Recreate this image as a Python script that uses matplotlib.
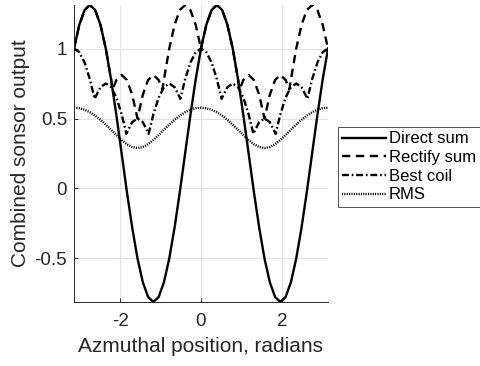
import matplotlib
matplotlib.use("Agg")
import matplotlib.pyplot as plt

plt.rcParams['font.family'] = ['Liberation Sans', 'DejaVu Sans']
plt.rcParams['axes.unicode_minus'] = False
plt.rcParams['lines.scale_dashes'] = False

# azimuthal position (radians)
x_grid = [-3.142, -3.011, -2.880, -2.749, -2.618, -2.487, -2.356, -2.225, -2.094, -1.963,
          -1.833, -1.702, -1.571, -1.440, -1.309, -1.178, -1.047, -0.916, -0.785, -0.654,
          -0.524, -0.393, -0.262, -0.131, 0.000, 0.131, 0.262, 0.393, 0.524, 0.654,
          0.785, 0.916, 1.047, 1.178, 1.309, 1.440, 1.571, 1.702, 1.833, 1.963,
          2.094, 2.225, 2.356, 2.487, 2.618, 2.749, 2.880, 3.011, 3.142]

direct_sum = [1.000, 1.169, 1.275, 1.311, 1.275, 1.169, 1.000, 0.780, 0.525, 0.250,
              -0.025, -0.280, -0.500, -0.669, -0.775, -0.811, -0.775, -0.669, -0.500, -0.280,
              -0.025, 0.250, 0.525, 0.780, 1.000, 1.169, 1.275, 1.311, 1.275, 1.169,
              1.000, 0.780, 0.525, 0.250, -0.025, -0.280, -0.500, -0.669, -0.775, -0.811,
              -0.775, -0.669, -0.500, -0.280, -0.025, 0.250, 0.525, 0.780, 1.000]

rms = [0.577, 0.574, 0.563, 0.545, 0.520, 0.491, 0.456, 0.420, 0.382, 0.346,
       0.316, 0.296, 0.289, 0.296, 0.316, 0.346, 0.382, 0.420, 0.456, 0.491,
       0.520, 0.545, 0.563, 0.574, 0.577, 0.574, 0.563, 0.545, 0.520, 0.491,
       0.456, 0.420, 0.382, 0.346, 0.316, 0.296, 0.289, 0.296, 0.316, 0.346,
       0.382, 0.420, 0.456, 0.491, 0.520, 0.545, 0.563, 0.574, 0.577]

x_rect = [-3.142, -3.011, -2.880, -2.749, -2.618, -2.487, -2.356, -2.225, -2.186, -2.094,
          -1.963, -1.833, -1.702, -1.571, -1.440, -1.309, -1.178, -1.047, -0.955, -0.916,
          -0.785, -0.654, -0.524, -0.393, -0.262, -0.131, 0.000, 0.131, 0.262, 0.393,
          0.524, 0.654, 0.785, 0.916, 0.955, 1.047, 1.178, 1.309, 1.440, 1.571,
          1.702, 1.833, 1.963, 2.094, 2.186, 2.225, 2.356, 2.487, 2.618, 2.749,
          2.880, 3.011, 3.142]

rect_sum = [1.000, 1.169, 1.275, 1.311, 1.275, 1.169, 1.000, 0.780, 0.707, 0.775,
            0.811, 0.775, 0.669, 0.500, 0.669, 0.775, 0.811, 0.775, 0.707, 0.780,
            1.000, 1.169, 1.275, 1.311, 1.275, 1.169, 1.000, 1.169, 1.275, 1.311,
            1.275, 1.169, 1.000, 0.780, 0.707, 0.775, 0.811, 0.775, 0.669, 0.500,
            0.669, 0.775, 0.811, 0.775, 0.707, 0.780, 1.000, 1.169, 1.275, 1.311,
            1.275, 1.169, 1.000]

x_best = [-3.142, -3.011, -2.880, -2.749, -2.630, -2.618, -2.487, -2.356, -2.225, -2.094,
          -1.963, -1.845, -1.833, -1.702, -1.571, -1.440, -1.309, -1.297, -1.178, -1.047,
          -0.916, -0.785, -0.654, -0.524, -0.512, -0.393, -0.262, -0.131, 0.000, 0.131,
          0.262, 0.393, 0.512, 0.524, 0.654, 0.785, 0.916, 1.047, 1.178, 1.297,
          1.309, 1.440, 1.571, 1.702, 1.833, 1.845, 1.963, 2.094, 2.225, 2.356,
          2.487, 2.618, 2.630, 2.749, 2.880, 3.011, 3.142]

best_coil = [1.000, 0.974, 0.900, 0.780, 0.640, 0.650, 0.724, 0.750, 0.724, 0.650,
             0.530, 0.390, 0.400, 0.474, 0.500, 0.474, 0.400, 0.390, 0.530, 0.650,
             0.724, 0.750, 0.724, 0.650, 0.640, 0.780, 0.900, 0.974, 1.000, 0.974,
             0.900, 0.780, 0.640, 0.650, 0.724, 0.750, 0.724, 0.650, 0.530, 0.390,
             0.400, 0.474, 0.500, 0.474, 0.400, 0.390, 0.530, 0.650, 0.724, 0.750,
             0.724, 0.650, 0.640, 0.780, 0.900, 0.974, 1.000]

x_ticks = [-2, 0, 2]
y_ticks = [-0.5, 0, 0.5, 1]
y_tick_labels = ['-0.5', '0', '0.5', '1']

dark = '#262626'

fig = plt.figure(figsize=(4.81, 3.66), dpi=100)
ax = fig.add_axes([74 / 481, 64 / 366, 254 / 481, 297 / 366])

lw = 1.7
ax.plot(x_grid, direct_sum, color='black', lw=lw, label='Direct sum')
ax.plot(x_rect, rect_sum, color='black', lw=lw, dashes=(6.0, 4.0), label='Rectify sum')
ax.plot(x_best, best_coil, color='black', lw=lw, dashes=(5.0, 2.0, 1.2, 2.0), label='Best coil')
ax.plot(x_grid, rms, color='black', lw=lw, dashes=(0.8, 0.9), label='RMS')

ax.set_xlim(min(x_grid), max(x_grid))
ax.set_ylim(min(direct_sum), max(direct_sum))
ax.set_xticks(x_ticks)
ax.set_yticks(y_ticks)
ax.set_yticklabels(y_tick_labels)
ax.grid(True, color='#e3e3e3', lw=0.8)
ax.set_axisbelow(True)

for side in ['top', 'right']:
    ax.spines[side].set_visible(False)
for side in ['left', 'bottom']:
    ax.spines[side].set_color(dark)
    ax.spines[side].set_linewidth(0.7)
ax.tick_params(direction='in', length=3, width=0.7, colors=dark, labelsize=13.5)
ax.tick_params(axis='x', pad=8)
ax.tick_params(axis='y', pad=5)

ax.set_xlabel('Azmuthal position, radians', fontsize=15, color=dark, labelpad=5)
ax.set_ylabel('Combined sonsor output', fontsize=15, color=dark, labelpad=3)

leg = ax.legend(loc='center left', bbox_to_anchor=(338 / 481, 199 / 366),
                bbox_transform=fig.transFigure, fontsize=12, frameon=True, fancybox=False,
                edgecolor=dark, handlelength=2.6, handletextpad=0.2, labelspacing=0.22,
                borderpad=0.25, borderaxespad=0)
leg.get_frame().set_linewidth(0.7)
for t in leg.get_texts():
    t.set_color('black')

fig.savefig('out.png', dpi=100)
